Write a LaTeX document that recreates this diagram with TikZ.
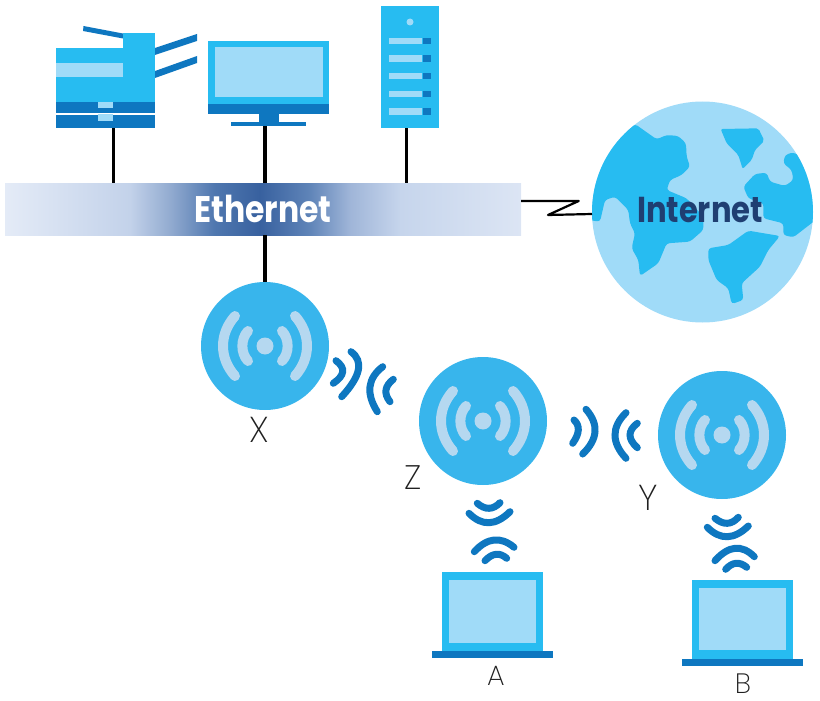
\documentclass[tikz,border=0pt]{standalone}
\usepackage{fontspec}
\setmainfont{Poppins}
\newfontfamily\thinfont{Poppins ExtraLight}
\newfontfamily\headfont[FakeStretch=0.85]{Poppins Bold}
\usetikzlibrary{calc}
\definecolor{cyanmain}{HTML}{27BCF1}
\definecolor{cyanpale}{HTML}{A0DBF8}
\definecolor{bluedark}{HTML}{0E77C0}
\definecolor{apfill}{HTML}{38B5EC}
\definecolor{aparc}{HTML}{B5D8F0}
\definecolor{inetblue}{HTML}{1F3F72}
\definecolor{labelgrey}{HTML}{202020}
\definecolor{e0}{HTML}{E4EBF7}
\definecolor{e1}{HTML}{C3D2EA}
\definecolor{e2}{HTML}{92ABD0}
\definecolor{e3}{HTML}{4F77AF}
\definecolor{e4}{HTML}{38619F}
\definecolor{e5}{HTML}{5F84B8}
\definecolor{e6}{HTML}{9FB5D8}
\definecolor{e7}{HTML}{C6D5EC}
\definecolor{e8}{HTML}{DCE5F4}
\pgfdeclarehorizontalshading{ethshade}{100bp}{color(0bp)=(e0);color(25bp)=(e0);color(37.1bp)=(e1);color(41bp)=(e2);color(45.3bp)=(e3);color(49.7bp)=(e4);color(54.5bp)=(e5);color(58.4bp)=(e6);color(63.3bp)=(e7);color(75bp)=(e8);color(100bp)=(e8)}
\tikzset{
  rect/.style={rectangle,inner sep=0pt,outer sep=0pt},
  apdisc/.style={circle,inner sep=0pt,outer sep=0pt,minimum size=128pt,fill=apfill},
  link/.style={draw=black,line width=3.3pt},
  wavearc/.style={draw=bluedark,line width=7pt,line cap=round},
  aparcs/.style={draw=aparc,line width=10pt,line cap=round},
  tag/.style={font=\thinfont\fontsize{#1}{#1}\selectfont,text=labelgrey,inner sep=0pt},
  tag/.default=34
}
\newcommand{\wv}[3]{\draw[wavearc] #1 .. controls ($1.3333*#2-0.3333*#3$) and ($1.3333*#2-0.3333*#1$) .. #3;}
\newcommand{\apicon}[2]{%
  \node[apdisc] (#1) at #2 {};
  \begin{scope}[shift={#2}]
    \fill[aparc] (0,0) circle (8.5pt);
    \draw[aparcs] (-17,-15) .. controls (-24.5,-7) and (-24.5,7) .. (-17,15);
    \draw[aparcs] (17,-15) .. controls (24.5,-7) and (24.5,7) .. (17,15);
    \draw[aparcs] (-30,-30) .. controls (-46,-12) and (-46,12) .. (-30,30);
    \draw[aparcs] (30,-30) .. controls (46,-12) and (46,12) .. (30,30);
  \end{scope}}
\begin{document}
\begin{tikzpicture}[x=1pt,y=-1pt]
\useasboundingbox (0,0) rectangle (820,701);
% Ethernet bar
\node[rect,minimum width=516pt,minimum height=52pt,shading=ethshade] (eth) at (263,209) {};
\node[font=\headfont\fontsize{37}{37}\selectfont,text=white,inner sep=0pt] (ethlabel) at (263,209) {Ethernet};
% Printer
\fill[bluedark] (83.5,26) -- (123,33.5) -- (123,38.5) -- (83,31) -- cycle;
\fill[bluedark] (155,48) -- (197,34) -- (197,41) -- (155,55) -- cycle;
\fill[bluedark] (155,71) -- (197,56) -- (197,63) -- (155,78) -- cycle;
\node[rect,fill=cyanmain,minimum width=99pt,minimum height=54pt] (printer) at (105.5,75) {};
\fill[cyanmain] (123,33.5) rectangle (155,48);
\fill[cyanpale] (56,63) rectangle (123,77);
\node[rect,fill=bluedark,minimum width=99pt,minimum height=13pt] (printertray) at (105.5,121.5) {};
\fill[bluedark] (56,102) rectangle (155,113.5);
\fill[cyanpale] (98,102) rectangle (113,108.5);
\fill[cyanpale] (98,114.5) rectangle (113,120.5);
% Monitor
\fill[cyanmain] (208,41) rectangle (329,104);
\fill[cyanpale] (215,47.5) rectangle (323,97);
\fill[bluedark] (208,104) rectangle (329,114);
\fill[bluedark] (259,114) rectangle (279,122);
\node[rect,fill=bluedark,minimum width=75pt,minimum height=4pt] (monitor) at (268.5,124) {};
% Server
\node[rect,fill=cyanmain,minimum width=58pt,minimum height=122pt] (server) at (410,67) {};
\fill[cyanpale] (410,22) circle (3.5pt);
\foreach \yy in {38,55.5,73,91,108.5}{
  \fill[cyanpale] (389,\yy) rectangle (422,\yy+6.3);
  \fill[bluedark] (423,\yy) rectangle (431,\yy+6.3);
}
% Links to the bus
\coordinate (pdrop) at (113.5,128);
\coordinate (mdrop) at (265,126);
\coordinate (sdrop) at (406.5,128);
\draw[link] (pdrop) -- (pdrop |- eth.north);
\draw[link] (mdrop) -- (mdrop |- eth.north);
\draw[link] (sdrop) -- (sdrop |- eth.north);
% Globe
\node[circle,inner sep=0pt,outer sep=0pt,minimum size=221pt,fill=cyanpale] (globe) at (702.5,212) {};
\begin{scope}
\clip (702.5,212) circle (110.5pt);
\begin{scope}[shift={(500,100)},x=0.33333pt,y=-0.33333pt]
\fill[cyanmain,rounded corners=3pt] (405,72) -- (470,118) -- (500,105) -- (535,108) -- (558,130) -- (560,170) -- (570,200) -- (545,225) -- (510,240) -- (500,270) -- (560,295) -- (610,350) -- (610,390) -- (570,425) -- (500,430) -- (475,490) -- (420,528) -- (415,480) -- (395,445) -- (405,400) -- (390,370) -- (385,330) -- (345,290) -- (315,300) -- (300,365) -- (265,360) -- (260,200) -- cycle;
\fill[cyanmain,rounded corners=2pt] (662,87) -- (775,85) -- (793,122) -- (765,150) -- (755,180) -- (728,207) -- (715,165) -- (680,130) -- cycle;
\fill[cyanmain,rounded corners=3pt] (880,157) -- (855,165) -- (850,190) -- (875,210) -- (880,240) -- (855,258) -- (810,245) -- (800,218) -- (765,222) -- (730,260) -- (745,295) -- (790,310) -- (790,355) -- (850,370) -- (850,405) -- (880,412) -- (960,350) -- (960,200) -- cycle;
\fill[cyanmain,rounded corners=3pt] (745,392) -- (840,408) -- (805,450) -- (780,500) -- (725,550) -- (730,600) -- (695,612) -- (685,565) -- (650,540) -- (625,480) -- (625,445) -- (685,435) -- cycle;
\end{scope}
\end{scope}
\node[font=\headfont\fontsize{36}{36}\selectfont,text=inetblue,inner sep=0pt] (inetlabel) at (700,210) {Internet};
% Z-shaped WAN link
\coordinate (zstart) at (521,201);
\coordinate (zig1) at (578.7,201);
\coordinate (zig2) at (548,215);
\coordinate (zend) at (592,214);
\draw[draw=black,line width=2.2pt,line join=round] (zstart) -- (zig1) -- (zig2) -- (zend);
% Access points
\apicon{apx}{(265,346)}
\apicon{apz}{(483,421)}
\apicon{apy}{(722,435)}
\draw[link] (eth.south -| apx) -- (apx.north);
% Waves
\wv{(336,360.7)}{(342.7,371.7)}{(333.3,383.3)}
\wv{(351,351.7)}{(358.3,370)}{(341.7,396.7)}
\wv{(382.7,366.7)}{(370,386.7)}{(377.3,411.7)}
\wv{(393.3,379.3)}{(386,390)}{(390,401.7)}
\wv{(574,420)}{(578.3,430)}{(572.7,443.3)}
\wv{(586,409.3)}{(595,431.7)}{(582.7,454)}
\wv{(626,412.7)}{(615,435)}{(626,458.3)}
\wv{(637.3,423.3)}{(630,435)}{(637.3,447.7)}
\wv{(477.3,503.3)}{(489,508.3)}{(500,502.7)}
\wv{(469,513.3)}{(489,522.7)}{(510,511.7)}
\wv{(474.3,551.7)}{(494,540)}{(514,547.3)}
\wv{(485,560.7)}{(496,554.3)}{(506.7,558.3)}
\wv{(715,518.3)}{(727.3,523.3)}{(738.3,517.3)}
\wv{(707.3,527.3)}{(727.3,536.7)}{(748.3,526)}
\wv{(715,560.7)}{(735,548.3)}{(754.3,556.7)}
\wv{(725.7,569.3)}{(736,563.3)}{(746.7,567.3)}
% Laptops
\node[rect,fill=cyanmain,minimum width=101.3pt,minimum height=79.4pt] (lapa) at (492.65,612) {};
\fill[cyanpale] (449,580) rectangle (536,642.7);
\fill[bluedark] (431.7,651.3) rectangle (552.7,658.3);
\node[rect,fill=cyanmain,minimum width=101.3pt,minimum height=79pt] (lapb) at (742.65,619.5) {};
\fill[cyanpale] (699,587.7) rectangle (786,650.3);
\fill[bluedark] (681.7,659) rectangle (802.7,666);
% Labels
\node[tag=36] (xlabel) at (259,430) {X};
\node[tag=34] (zlabel) at (413,478) {Z};
\node[tag=36] (ylabel) at (648.5,498) {Y};
\node[tag=28] (alabel) at (496,676) {A};
\node[tag=28] (blabel) at (743,683.5) {B};
\end{tikzpicture}
\end{document}
